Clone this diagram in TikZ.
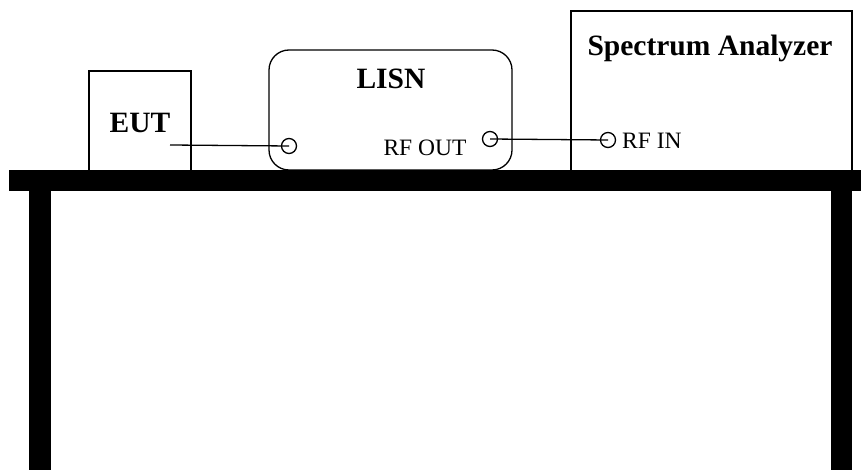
\documentclass[tikz,border=0pt]{standalone}
\usepackage{fontspec}
\setmainfont{Liberation Serif}
\begin{document}
\begin{tikzpicture}[x=1pt,y=-1pt,
  box/.style={draw,line width=1.3pt,inner sep=0pt},
  port/.style={draw,circle,line width=1.3pt,minimum size=15pt,inner sep=0pt},
  wire/.style={line width=1.3pt},
  title/.style={font=\fontsize{29.5}{32}\selectfont\bfseries,inner sep=0pt},
  lbl/.style={font=\fontsize{23.5}{26}\selectfont,inner sep=0pt},
  slab/.style={fill=black}]
\useasboundingbox (0,0) rectangle (861,470);
% table
\fill[slab] (9,170) rectangle (861,191);
\fill[slab] (29,190) rectangle (51,470);
\fill[slab] (831,190) rectangle (852,470);
% boxes
\draw[box] (89,170) |- (191,71) -- (191,170);
\draw[box,rounded corners=20pt] (269,170) -- (269,50) -- (512,50) -- (512,170) -- cycle;
\draw[box] (571,170) |- (852,11) -- (852,170);
% texts
\node[title] (eut) at (140,123) {EUT};
\node[title] (lisn) at (391,79) {LISN};
\node[title] (sa) at (710,48) {Spectrum Analyzer};
\node[lbl] (rfout) at (425,148) {RF OUT};
\node[lbl,anchor=west] (rfin) at (622,141) {RF IN};
% ports
\node[port] (pin) at (289,146) {};
\node[port] (pout) at (490,139) {};
\node[port] (pan) at (608,140) {};
\coordinate (eutout) at (170,145);
% wires
\draw[wire] (eutout) -- (pin.center);
\draw[wire] (pout.center) -- (pan.center);
\end{tikzpicture}
\end{document}
